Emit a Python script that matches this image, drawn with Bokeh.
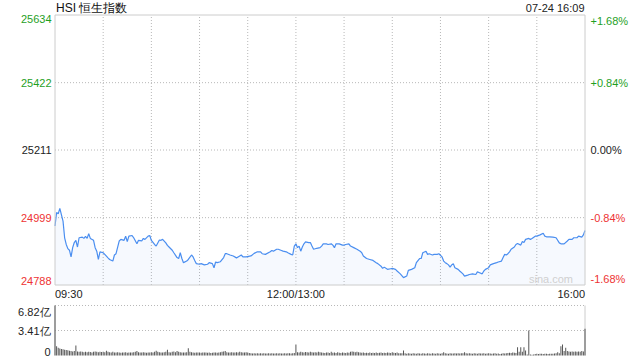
from bokeh.plotting import figure
from bokeh.models import Range1d, Grid
from bokeh.core.properties import value
from bokeh.embed import file_html
from bokeh.resources import INLINE

# ---------------- data ----------------
title_text = "HSI 恒生指数"
stamp_text = "07-24 16:09"
prev_close = 25211
price_ticks = [25634, 25422, 25211, 24999, 24788]
pct_labels = ["+1.68%", "+0.84%", "0.00%", "-0.84%", "-1.68%"]
session_len = 330  # minutes 09:30-12:00 + 13:00-16:00
grid_minutes = [30, 60, 90, 120, 150, 180, 210, 240, 270, 300]
time_tick_minutes = [0, 150, 330]
time_tick_labels = ["09:30", "12:00/13:00", "16:00"]

minute = [0, 1, 2, 3, 5, 6, 7, 8, 9, 10, 11, 12, 13, 14, 15, 17, 18, 19, 20, 21,
          22, 24, 25, 26, 27, 28, 30, 31, 33, 34, 36, 37, 38, 40, 41, 43, 44, 45, 46, 48,
          49, 51, 52, 54, 55, 56, 58, 59, 60, 62, 63, 65, 66, 67, 69, 70, 71, 73, 74, 76,
          77, 78, 79, 80, 82, 83, 85, 86, 87, 88, 90, 91, 93, 95, 96, 98, 99, 100, 101, 103,
          105, 106, 107, 109, 111, 113, 114, 116, 117, 119, 122, 124, 126, 128, 129, 131, 134, 135, 136, 138,
          139, 141, 142, 144, 145, 147, 148, 149, 150, 151, 152, 153, 154, 155, 156, 158, 159, 160, 161, 163,
          165, 166, 167, 169, 170, 172, 173, 174, 175, 177, 179, 180, 181, 183, 184, 186, 188, 190, 191, 192,
          194, 196, 198, 200, 201, 203, 204, 205, 207, 209, 210, 212, 213, 215, 217, 219, 220, 222, 224, 225,
          227, 228, 229, 231, 232, 233, 235, 236, 238, 239, 241, 242, 243, 244, 245, 246, 247, 248, 249, 251,
          252, 254, 255, 257, 258, 260, 262, 263, 264, 266, 267, 268, 270, 271, 273, 275, 276, 278, 279, 280,
          281, 282, 283, 284, 286, 287, 288, 290, 291, 292, 293, 295, 296, 297, 299, 300, 302, 304, 305, 306,
          308, 310, 312, 314, 315, 317, 319, 320, 322, 323, 325, 326, 328, 329, 330]

price = [24973, 25015, 25011, 25028, 24988, 24936, 24915, 24902, 24897, 24876, 24905, 24921, 24928, 24907, 24936, 24938, 24934, 24940, 24934, 24949,
         24934, 24928, 24905, 24894, 24868, 24892, 24889, 24884, 24873, 24868, 24863, 24882, 24886, 24926, 24931, 24928, 24941, 24924, 24941, 24943,
         24936, 24917, 24928, 24926, 24934, 24931, 24941, 24943, 24928, 24915, 24910, 24929, 24928, 24931, 24920, 24912, 24907, 24897, 24889, 24874,
         24871, 24889, 24871, 24858, 24863, 24868, 24882, 24876, 24865, 24855, 24853, 24855, 24851, 24853, 24858, 24855, 24842, 24860, 24858, 24861,
         24874, 24886, 24886, 24882, 24879, 24873, 24876, 24882, 24876, 24876, 24879, 24887, 24892, 24892, 24886, 24884, 24892, 24896, 24894, 24900,
         24900, 24896, 24894, 24892, 24889, 24884, 24882, 24910, 24917, 24905, 24910, 24894, 24907, 24917, 24923, 24921, 24921, 24910, 24900, 24903,
         24905, 24910, 24917, 24917, 24915, 24917, 24913, 24905, 24917, 24917, 24913, 24913, 24915, 24917, 24910, 24905, 24900, 24894, 24889, 24879,
         24871, 24868, 24865, 24858, 24855, 24847, 24840, 24844, 24837, 24839, 24840, 24837, 24832, 24823, 24811, 24816, 24834, 24837, 24842, 24858,
         24871, 24871, 24889, 24894, 24884, 24886, 24882, 24884, 24884, 24886, 24876, 24863, 24858, 24855, 24851, 24844, 24851, 24855, 24842, 24837,
         24832, 24823, 24816, 24819, 24821, 24823, 24821, 24829, 24827, 24823, 24832, 24837, 24842, 24851, 24855, 24858, 24860, 24863, 24874, 24884,
         24882, 24886, 24892, 24900, 24907, 24915, 24918, 24913, 24924, 24921, 24931, 24934, 24931, 24934, 24941, 24941, 24945, 24950, 24941, 24939,
         24939, 24938, 24936, 24920, 24917, 24917, 24926, 24931, 24931, 24936, 24936, 24941, 24938, 24945, 24959]

vol_ticks = [6.82, 3.41, 0]
vol_tick_labels = ["6.82亿", "3.41亿", "0"]
volume = [  # 亿, one bar per minute
    6.82, 1.27, 1.05, 0.95, 0.9, 0.85, 0.8, 0.75, 0.7, 0.65,
    0.6, 0.55, 0.6, 1.36, 0.55, 0.5, 0.55, 0.5, 0.45, 0.5,
    0.45, 0.5, 0.48, 0.42, 0.5, 0.55, 0.5, 0.45, 0.5, 0.48,
    0.5, 0.45, 0.65, 0.5, 0.45, 0.4, 0.5, 0.42, 0.4, 0.45,
    0.4, 0.38, 0.42, 0.4, 0.45, 0.38, 0.4, 0.42, 0.4, 0.45,
    0.5, 0.6, 0.45, 0.4, 0.42, 0.45, 0.4, 0.38, 0.42, 0.4,
    0.45, 0.42, 0.5, 0.65, 0.5, 0.45, 0.42, 0.4, 0.45, 0.5,
    0.8, 0.45, 0.4, 0.5, 0.55, 0.45, 0.6, 0.5, 0.45, 0.4,
    0.42, 0.4, 0.45, 1.0, 0.5, 0.45, 0.4, 0.38, 0.4, 0.42,
    0.4, 0.38, 0.4, 0.42, 0.4, 0.38, 0.4, 0.35, 0.38, 0.4,
    0.42, 0.38, 0.4, 0.45, 0.5, 0.55, 0.6, 0.45, 0.4, 0.42,
    0.45, 0.42, 0.4, 0.45, 0.42, 0.5, 0.45, 0.42, 0.4, 0.45,
    0.4, 0.35, 0.3, 0.28, 0.3, 0.28, 0.3, 0.27, 0.3, 0.28,
    0.3, 0.28, 0.27, 0.3, 0.28, 0.3, 0.27, 0.28, 0.3, 0.28,
    0.3, 0.28, 0.27, 0.3, 0.28, 0.3, 0.3, 0.28, 0.3, 0.35,
    1.5, 0.45, 0.4, 0.5, 0.45, 0.42, 0.48, 0.45, 0.4, 0.5,
    0.45, 0.42, 0.45, 0.4, 0.5, 0.45, 0.4, 0.38, 0.35, 0.42,
    0.4, 0.35, 0.5, 0.38, 0.4, 0.35, 0.45, 0.38, 0.35, 0.4,
    0.38, 0.35, 0.4, 0.38, 0.5, 0.55, 0.5, 0.45, 0.5, 0.45,
    0.42, 0.38, 0.4, 0.35, 0.38, 0.35, 0.4, 0.35, 0.38, 0.35,
    0.4, 0.35, 0.38, 0.4, 0.35, 0.38, 0.35, 0.4, 0.38, 0.35,
    0.45, 0.38, 0.35, 0.4, 0.3, 0.32, 0.3, 0.68, 0.3, 0.25,
    0.3, 0.28, 0.25, 0.3, 0.27, 0.25, 0.3, 0.28, 0.25, 0.3,
    0.27, 0.25, 0.3, 0.28, 0.25, 0.3, 0.28, 0.25, 0.3, 0.27,
    0.25, 0.3, 0.45, 0.3, 0.28, 0.25, 0.3, 0.28, 0.27, 0.3,
    0.28, 0.3, 0.28, 0.3, 0.32, 0.45, 0.3, 0.28, 0.3, 0.27,
    0.25, 0.3, 0.28, 0.25, 0.3, 0.27, 0.28, 0.3, 0.25, 0.28,
    0.3, 0.27, 0.25, 0.28, 0.3, 0.25, 0.27, 0.2, 0.25, 0.3,
    0.28, 0.3, 0.35, 0.38, 0.35, 0.4, 0.38, 0.35, 1.13, 0.5,
    1.13, 0.5, 1.13, 0.68, 0.15, 3.41, 0.12, 0.1, 0.12, 0.2,
    0.23, 0.22, 0.25, 0.23, 0.22, 0.25, 0.23, 0.22, 0.25, 0.23,
    0.25, 0.28, 0.3, 0.45, 0.3, 1.27, 1.5, 0.6, 1.05, 0.6,
    0.55, 0.5, 0.55, 0.5, 0.55, 0.5, 0.55, 0.5, 0.6, 0.55,
    3.64,
]

# ---------------- layout (pixels of the 640x360 canvas) ----------------
W, H = 640, 360
CH_LEFT, CH_RIGHT = 54.5, 584.5      # chart box, x
MAIN_TOP, MAIN_BOT = 14.5, 284.5     # price panel, y
VOL_TOP, VOL_BOT = 305.0, 355.0      # volume panel, y

FONT = value("Liberation Sans")
GREEN = "#1f9f1f"
RED = "#ee3333"
BLACK = "#222222"
LINE = "#4a8ef0"
BORDER = "#cccccc"
GRID = "#b8b8b8"
DASH = "1 2"

y_lo, y_hi = min(price_ticks), max(price_ticks)
ppm = (CH_RIGHT - CH_LEFT) / session_len          # px per minute
ppy = (y_hi - y_lo) / (MAIN_BOT - MAIN_TOP)       # price per px
vmax = max(vol_ticks)
vpp = vmax / (VOL_BOT - VOL_TOP)                  # volume per px


def dx(px):
    return px / ppm


def dy(px):
    return px * ppy


p = figure(width=W, height=H,
           x_range=Range1d(-dx(CH_LEFT), session_len + dx(W - CH_RIGHT)),
           y_range=Range1d(y_lo - dy(H - MAIN_BOT), y_hi + dy(MAIN_TOP)),
           x_axis_location=None, y_axis_location=None,
           toolbar_location=None, output_backend="svg",
           min_border=0, outline_line_color=None,
           background_fill_color="white", border_fill_color="white")
p.center = [r for r in p.center if not isinstance(r, Grid)]
p.extra_y_ranges = {"vol": Range1d(0 - (H - VOL_BOT) * vpp, vmax + VOL_TOP * vpp)}

# ---- price panel ----
p.segment(x0=grid_minutes, x1=grid_minutes, y0=y_lo, y1=y_hi,
          line_color=GRID, line_dash=DASH, line_width=1)
inner = price_ticks[1:-1]
p.segment(x0=0, x1=session_len, y0=inner, y1=inner,
          line_color=GRID, line_dash=DASH, line_width=1)

p.varea(x=minute, y1=y_lo, y2=price, fill_color=LINE, fill_alpha=0.05)
p.line(minute, price, line_color=LINE, line_width=1.2)

p.quad(left=0, right=session_len, bottom=y_lo, top=y_hi,
       fill_color=None, line_color=BORDER, line_width=1)

# title and stamp
p.text(x=[dx(1)], y=[y_hi + dy(7.5)], text=[title_text], text_align="left",
       text_baseline="middle", text_color="#111111", text_font=FONT,
       text_font_size=value("12px"))
p.text(x=[session_len - dx(0.5)], y=[y_hi + dy(7.5)], text=[stamp_text],
       text_align="right", text_baseline="middle", text_color=BLACK,
       text_font=FONT, text_font_size=value("11px"))

# price / percent tick labels
cols = [GREEN if v > prev_close else (RED if v < prev_close else BLACK) for v in price_ticks]
bases = ["top" if v == y_hi else ("bottom" if v == y_lo else "middle") for v in price_ticks]
for v, pl, c, b in zip(price_ticks, pct_labels, cols, bases):
    p.text(x=[-dx(3.5)], y=[v], text=[str(v)], text_align="right", text_baseline=b,
           text_color=c, text_font=FONT, text_font_size=value("11px"))
    p.text(x=[session_len + dx(5.5)], y=[v], text=[pl], text_align="left", text_baseline=b,
           text_color=c, text_font=FONT, text_font_size=value("11px"))

# time labels
n_t = len(time_tick_minutes)
for i, (tm, tl) in enumerate(zip(time_tick_minutes, time_tick_labels)):
    align = "left" if i == 0 else ("right" if i == n_t - 1 else "center")
    p.text(x=[tm], y=[y_lo - dy(9)], text=[tl], text_align=align, text_baseline="middle",
           text_color=BLACK, text_font=FONT, text_font_size=value("11px"))

# watermark
p.text(x=[session_len - dx(12)], y=[y_lo], text=["sina.com"], text_align="right",
       text_baseline="bottom", text_color="#d0d0d0", text_font=FONT,
       text_font_size=value("11px"))

# ---- volume panel ----
vgrid = vol_ticks[:-1]
p.segment(x0=0, x1=session_len, y0=vgrid, y1=vgrid, y_range_name="vol",
          line_color=GRID, line_dash=DASH, line_width=1)
p.segment(x0=[0, session_len], x1=[0, session_len], y0=0, y1=vmax, y_range_name="vol",
          line_color=BORDER, line_width=1)
p.vbar(x=list(range(len(volume))), top=volume, bottom=0, width=0.62, y_range_name="vol",
       fill_color="#555555", line_color=None)

for t, tl in zip(vol_ticks, vol_tick_labels):
    b = "top" if t == vmax else ("bottom" if t == 0 else "middle")
    p.text(x=[-dx(4.5)], y=[t], text=[tl], text_align="right", text_baseline=b,
           y_range_name="vol", text_color=BLACK, text_font=FONT,
           text_font_size=value("11px"))

open("out.html", "w").write(file_html(p, INLINE))
